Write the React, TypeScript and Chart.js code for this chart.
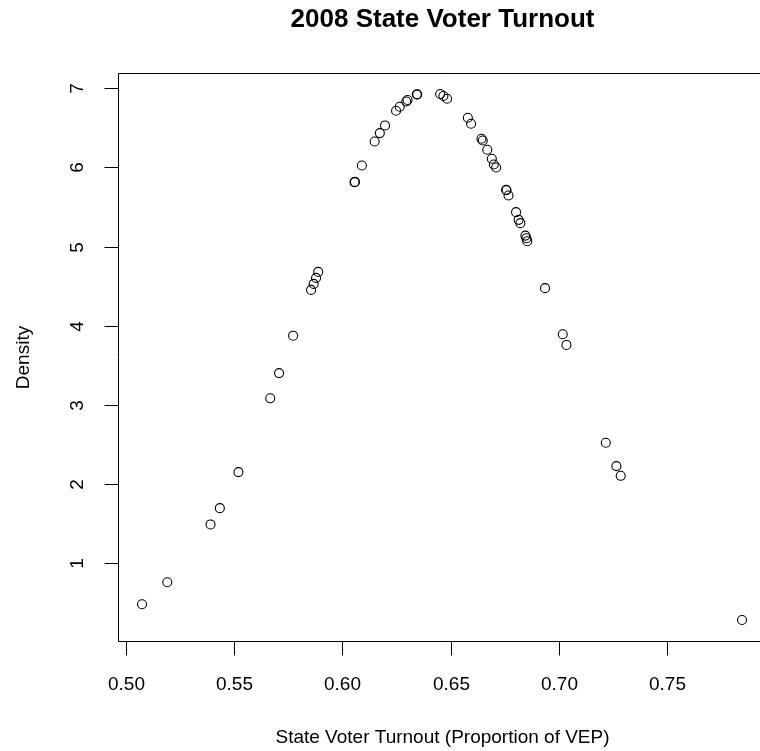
import React, { useEffect, useRef } from "react";
import { Chart, registerables } from "chart.js";

Chart.register(...registerables);

// State voter turnout (proportion of VEP)
const TURNOUT = [
  0.5073, 0.519, 0.539, 0.5433, 0.5519, 0.5666, 0.5707, 0.5772, 0.5855, 0.5867,
  0.5878, 0.5888, 0.6056, 0.6058, 0.609, 0.6149, 0.6173, 0.6197, 0.6248, 0.6265,
  0.6295, 0.6301, 0.6344, 0.6346, 0.6452, 0.6467, 0.6484, 0.658, 0.6595, 0.6643,
  0.6649, 0.667, 0.6691, 0.67, 0.6711, 0.6757, 0.6759, 0.6768, 0.6803, 0.6815,
  0.6823, 0.6846, 0.6851, 0.6855, 0.6937, 0.7019, 0.7036, 0.7218, 0.7267, 0.7287,
  0.7848,
];

// Kernel density at each state's turnout
const DENSITY = [
  0.477, 0.755, 1.486, 1.692, 2.148, 3.081, 3.4, 3.873, 4.452, 4.528,
  4.604, 4.68, 5.815, 5.818, 6.025, 6.329, 6.435, 6.532, 6.718, 6.768,
  6.835, 6.853, 6.924, 6.925, 6.929, 6.904, 6.87, 6.629, 6.553, 6.363,
  6.342, 6.224, 6.11, 6.038, 6.0, 5.718, 5.712, 5.646, 5.435, 5.338,
  5.296, 5.139, 5.106, 5.068, 4.474, 3.891, 3.756, 2.519, 2.224, 2.101,
  0.278,
];

const X_TICKS = [0.5, 0.55, 0.6, 0.65, 0.7, 0.75];
const X_TICK_LABELS = ["0.50", "0.55", "0.60", "0.65", "0.70", "0.75"];
const Y_TICKS = [1, 2, 3, 4, 5, 6, 7];
const Y_TICK_LABELS = ["1", "2", "3", "4", "5", "6", "7"];

const TITLE = "2008 State Voter Turnout";
const X_TITLE = "State Voter Turnout (Proportion of VEP)";
const Y_TITLE = "Density";

const FONT = '"Liberation Sans", Arial, Helvetica, sans-serif';

function paddedRange(vals: number[]) {
  const lo = Math.min(...vals);
  const hi = Math.max(...vals);
  const r = hi - lo;
  return [lo - 0.04 * r, hi + 0.04 * r];
}

const rBasePlot = {
  id: "rBasePlot",
  afterDraw(chart: any) {
    const { ctx, chartArea, scales } = chart;
    const { left, right, top, bottom } = chartArea;
    const xs = scales.x;
    const ys = scales.y;
    ctx.save();
    ctx.strokeStyle = "#000";
    ctx.fillStyle = "#000";
    ctx.lineWidth = 1;
    const L = Math.round(left) + 0.5;
    const T = Math.round(top) + 0.5;
    const R = Math.round(right) + 0.5;
    const B = Math.round(bottom) + 0.5;
    ctx.beginPath();
    ctx.rect(L, T, R - L, B - T);
    ctx.stroke();

    const tickLen = 14;
    // x axis ticks
    ctx.font = `19px ${FONT}`;
    ctx.textAlign = "center";
    ctx.textBaseline = "alphabetic";
    X_TICKS.forEach((v, i) => {
      const px = Math.round(xs.getPixelForValue(v)) + 0.5;
      ctx.beginPath();
      ctx.moveTo(px, B);
      ctx.lineTo(px, B + tickLen);
      ctx.stroke();
      ctx.fillText(X_TICK_LABELS[i], px, B + 48);
    });
    // y axis ticks
    Y_TICKS.forEach((v, i) => {
      const py = Math.round(ys.getPixelForValue(v)) + 0.5;
      ctx.beginPath();
      ctx.moveTo(L, py);
      ctx.lineTo(L - tickLen, py);
      ctx.stroke();
      ctx.save();
      ctx.translate(L - 36, py);
      ctx.rotate(-Math.PI / 2);
      ctx.fillText(Y_TICK_LABELS[i], 0, 0);
      ctx.restore();
    });

    // axis titles
    ctx.fillText(X_TITLE, (L + R) / 2, B + 101);
    ctx.save();
    ctx.translate(L - 90, (T + B) / 2);
    ctx.rotate(-Math.PI / 2);
    ctx.fillText(Y_TITLE, 0, 0);
    ctx.restore();

    // main title
    ctx.font = `bold 26px ${FONT}`;
    ctx.fillText(TITLE, (L + R) / 2, 27);
    ctx.restore();
  },
};

export default function App() {
  const canvasRef = useRef<HTMLCanvasElement | null>(null);

  useEffect(() => {
    const canvas = canvasRef.current;
    if (!canvas) return;
    const [xMin, xMax] = paddedRange(TURNOUT);
    const [yMin, yMax] = paddedRange(DENSITY);
    const chart = new Chart(canvas, {
      type: "scatter",
      data: {
        datasets: [
          {
            data: TURNOUT.map((x, i) => ({ x, y: DENSITY[i] })),
            pointStyle: "circle",
            pointRadius: 4.5,
            pointHoverRadius: 4.5,
            borderWidth: 1.1,
            borderColor: "#000",
            backgroundColor: "rgba(0,0,0,0)",
          },
        ],
      },
      options: {
        responsive: false,
        animation: false,
        devicePixelRatio: 1,
        layout: { padding: { left: 118, top: 73, right: 24, bottom: 110 } },
        plugins: {
          legend: { display: false },
          tooltip: { enabled: false },
          title: { display: false },
        },
        scales: {
          x: { type: "linear", display: false, min: xMin, max: xMax },
          y: { type: "linear", display: false, min: yMin, max: yMax },
        },
      },
      plugins: [rBasePlot],
    });
    return () => chart.destroy();
  }, []);

  return (
    <div
      style={{
        position: "fixed",
        left: 0,
        top: 0,
        width: 760,
        height: 751,
        overflow: "hidden",
        background: "#fff",
      }}
    >
      <canvas ref={canvasRef} width={790} height={751} style={{ display: "block" }} />
    </div>
  );
}
